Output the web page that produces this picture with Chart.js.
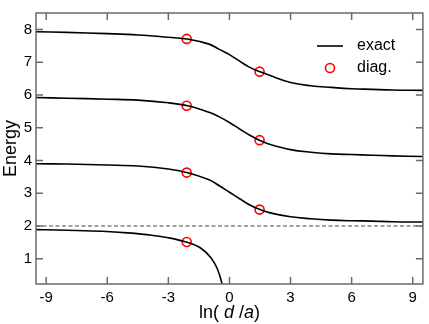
<!DOCTYPE html>
<html lang="en">
<head>
<meta charset="utf-8">
<title>Energy vs ln(d/a)</title>
<script src="https://cdn.jsdelivr.net/npm/chart.js"></script>
<style>
  html, body { margin: 0; padding: 0; background: #fff; }
  #wrap { width: 429px; height: 324px; }
</style>
</head>
<body>
<div id="wrap"><canvas id="chart"></canvas></div>
<script>
// data
const xGrid = [-9.5, -8, -6, -4.5, -3, -2, -1, -0.5, 0, 0.5, 1, 1.5, 2, 3, 4, 5, 6, 7, 8, 9.5];
const level4 = [7.93, 7.91, 7.87, 7.83, 7.76, 7.70, 7.55, 7.39, 7.23, 7.03, 6.84, 6.71, 6.59, 6.38, 6.28, 6.23, 6.19, 6.17, 6.15, 6.14];
const level3 = [5.92, 5.90, 5.87, 5.84, 5.76, 5.66, 5.47, 5.33, 5.16, 4.96, 4.77, 4.61, 4.49, 4.33, 4.25, 4.20, 4.18, 4.16, 4.14, 4.12];
const level2 = [3.90, 3.89, 3.86, 3.83, 3.74, 3.62, 3.41, 3.23, 3.03, 2.83, 2.64, 2.50, 2.40, 2.28, 2.22, 2.18, 2.16, 2.15, 2.13, 2.12];
const xLow = [-9.5, -8, -6.25, -5, -3.83, -3, -2.13, -1.4, -0.91, -0.59, -0.35, -0.2];
const level1 = [1.89, 1.87, 1.84, 1.79, 1.72, 1.64, 1.51, 1.32, 1.03, 0.69, 0.2, -0.3];
const diagX = [-2.1, 1.48];
const diag4 = [7.71, 6.71];
const diag3 = [5.67, 4.62];
const diag2 = [3.63, 2.50];
const diag1 = [1.51];
const dashY = 2;
const xTicks = [-9, -6, -3, 0, 3, 6, 9];
const yTicks = [1, 2, 3, 4, 5, 6, 7, 8];

function pts(xs, ys) {
  return ys.map((y, i) => ({ x: xs[i], y: y }));
}

const FONT = "'Liberation Sans', Arial, Helvetica, sans-serif";
const frameColor = '#6a6a6a';

const lineStyle = {
  showLine: true,
  borderColor: '#000',
  borderWidth: 1.6,
  pointRadius: 0,
  tension: 0.4,
  fill: false
};

const datasets = [
  Object.assign({ label: 'exact', data: pts(xGrid, level4) }, lineStyle),
  Object.assign({ label: 'exact3', data: pts(xGrid, level3) }, lineStyle),
  Object.assign({ label: 'exact2', data: pts(xGrid, level2) }, lineStyle),
  Object.assign({ label: 'exact1', data: pts(xLow, level1) }, lineStyle, { tension: 0, cubicInterpolationMode: 'monotone' }),
  {
    label: 'dash',
    data: [{ x: -9.5, y: dashY }, { x: 9.5, y: dashY }],
    showLine: true,
    borderColor: '#444',
    borderWidth: 1,
    borderDash: [4, 2.5],
    pointRadius: 0
  },
  {
    label: 'diag.',
    data: pts(diagX, diag4).concat(pts(diagX, diag3), pts(diagX, diag2), pts(diagX, diag1)),
    showLine: false,
    pointStyle: 'circle',
    pointRadius: 4.5,
    pointBorderColor: '#ff0000',
    pointBackgroundColor: 'rgba(0,0,0,0)',
    pointBorderWidth: 1.6
  }
];

// frame, inward ticks, legend and the mixed-font x title
const decor = {
  id: 'decor',
  afterDraw(chart) {
    const ctx = chart.ctx;
    const a = chart.chartArea;
    const xs = chart.scales.x, ys = chart.scales.y;
    const len = 7;
    ctx.save();
    ctx.strokeStyle = frameColor;
    ctx.lineWidth = 1.5;
    ctx.strokeRect(a.left, a.top, a.right - a.left, a.bottom - a.top);
    ctx.beginPath();
    xTicks.forEach(v => {
      const p = xs.getPixelForValue(v);
      ctx.moveTo(p, a.bottom); ctx.lineTo(p, a.bottom - len);
      ctx.moveTo(p, a.top); ctx.lineTo(p, a.top + len);
    });
    yTicks.forEach(v => {
      const p = ys.getPixelForValue(v);
      ctx.moveTo(a.left, p); ctx.lineTo(a.left + len, p);
      ctx.moveTo(a.right, p); ctx.lineTo(a.right - len, p);
    });
    ctx.stroke();

    // legend
    const lx = a.left + 281, ly1 = a.top + 33, ly2 = a.top + 55;
    ctx.strokeStyle = '#000';
    ctx.lineWidth = 1.6;
    ctx.beginPath();
    ctx.moveTo(lx, ly1); ctx.lineTo(lx + 26, ly1);
    ctx.stroke();
    ctx.strokeStyle = '#ff0000';
    ctx.beginPath();
    ctx.arc(lx + 13, ly2, 4.5, 0, Math.PI * 2);
    ctx.stroke();
    ctx.fillStyle = '#000';
    ctx.font = '16px ' + FONT;
    ctx.textBaseline = 'middle';
    ctx.textAlign = 'left';
    ctx.fillText('exact', lx + 40, ly1);
    ctx.fillText('diag.', lx + 40, ly2);

    // x axis title: ln( d /a) with italic d and a
    const parts = [['ln( ', ''], ['d', 'italic '], [' /', ''], ['a', 'italic '], [')', '']];
    const size = 18;
    let total = 0;
    parts.forEach(p => { ctx.font = p[1] + size + 'px ' + FONT; total += ctx.measureText(p[0]).width; });
    let x = (a.left + a.right) / 2 - total / 2;
    const y = 313;
    parts.forEach(p => {
      ctx.font = p[1] + size + 'px ' + FONT;
      ctx.fillText(p[0], x, y);
      x += ctx.measureText(p[0]).width;
    });
    ctx.restore();
  }
};

new Chart(document.getElementById('chart').getContext('2d'), {
  type: 'scatter',
  data: { datasets: datasets },
  options: {
    responsive: true,
    maintainAspectRatio: false,
    animation: false,
    layout: { padding: { top: 2, right: 1, left: 0, bottom: 0 } },
    plugins: {
      legend: { display: false },
      tooltip: { enabled: false }
    },
    scales: {
      x: {
        type: 'linear',
        min: -9.5,
        max: 9.5,
        grid: { display: false, drawTicks: false },
        border: { display: false },
        afterBuildTicks: s => { s.ticks = xTicks.map(v => ({ value: v })); },
        afterFit: s => { s.height = 40; },
        ticks: {
          padding: 5,
          color: '#000',
          font: { family: FONT, size: 15 },
          maxRotation: 0
        }
      },
      y: {
        type: 'linear',
        min: 0.23,
        max: 8.5,
        grid: { display: false, drawTicks: false },
        border: { display: false },
        afterBuildTicks: s => { s.ticks = yTicks.map(v => ({ value: v })); },
        afterFit: s => { s.width = 36; },
        title: {
          display: true,
          text: 'Energy',
          color: '#000',
          font: { family: FONT, size: 18 },
          padding: { top: 0, bottom: 1 }
        },
        ticks: {
          padding: 4,
          color: '#000',
          font: { family: FONT, size: 15 }
        }
      }
    }
  },
  plugins: [decor]
});
</script>
</body>
</html>
